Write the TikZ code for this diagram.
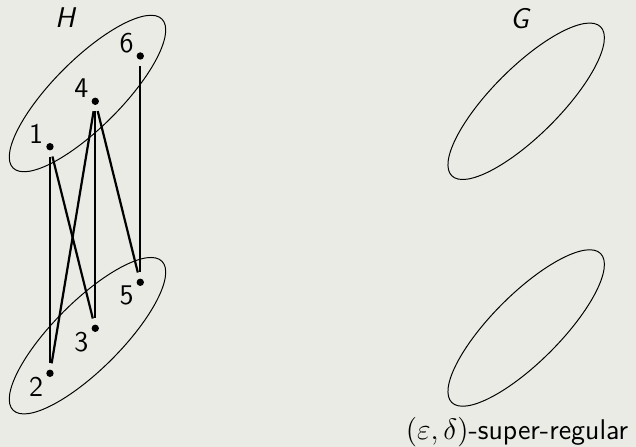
\documentclass[tikz,border=0pt]{standalone}
\usepackage{tikz}
\usetikzlibrary{positioning,backgrounds}
\definecolor{slidegray}{RGB}{235,235,230}
\tikzset{
  vtx/.style={circle,fill=black,inner sep=0pt,minimum size=3pt,outer sep=2.6pt},
  num/.style={inner sep=0pt},
  part/.style={thin,rotate=45},
  link/.style={line width=0.9pt},
  gname/.style={font=\sffamily\fontsize{11.6pt}{14pt}\selectfont\itshape}
}

\begin{document}
\begin{tikzpicture}[x=1cm,y=1cm,font=\sffamily\fontsize{11.6pt}{14pt}\selectfont]
  \fill[slidegray] (0,0) rectangle (9.086,6.386);
  \useasboundingbox (0,0) rectangle (9.086,6.386);

  % graph H
  \node[gname] (hname) at (0.929,6.129) {H};
  \draw[shift={(1.25,5.05)},part] (0,0) ellipse (1.504 and 0.484);
  \draw[shift={(1.25,1.59)},part] (0,0) ellipse (1.504 and 0.484);

  \node[vtx] (v1) at (0.714,4.290) {};
  \node[vtx] (v4) at (1.361,4.939) {};
  \node[vtx] (v6) at (2.004,5.586) {};
  \node[vtx] (v2) at (0.714,1.053) {};
  \node[vtx] (v3) at (1.361,1.696) {};
  \node[vtx] (v5) at (2.004,2.353) {};

  \node[num] (l1) at ([shift={(-5.6pt,5.3pt)}]v1.center) {1};
  \node[num] (l4) at ([shift={(-5.6pt,5.3pt)}]v4.center) {4};
  \node[num] (l6) at ([shift={(-5.6pt,5.3pt)}]v6.center) {6};
  \node[num] (l2) at ([shift={(-5.6pt,-5.45pt)}]v2.center) {2};
  \node[num] (l3) at ([shift={(-5.6pt,-5.45pt)}]v3.center) {3};
  \node[num] (l5) at ([shift={(-5.6pt,-5.45pt)}]v5.center) {5};

  \draw[link] (v1) -- (v2);
  \draw[link] (v1) -- (v3);
  \draw[link] (v4) -- (v2);
  \draw[link] (v4) -- (v3);
  \draw[link] (v4) -- (v5);
  \draw[link] (v6) -- (v5);

  % graph G
  \node[gname] (gname) at (7.421,6.114) {G};
  \draw[shift={(7.517,4.939)},part] (0,0) ellipse (1.504 and 0.484);
  \draw[shift={(7.517,1.700)},part] (0,0) ellipse (1.504 and 0.484);
  \node[anchor=base] (reg) at (7.386,0.100) {$(\varepsilon,\delta)$-super-regular};
\end{tikzpicture}
\end{document}
